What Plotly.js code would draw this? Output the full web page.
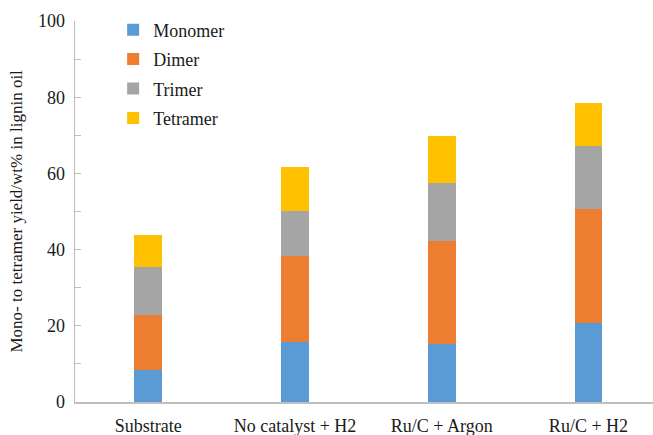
<!DOCTYPE html>
<html>
<head>
<meta charset="utf-8">
<script src="https://cdn.plot.ly/plotly-3.0.1.min.js"></script>
<style>html,body{margin:0;padding:0;background:#fff;}#chart{width:653px;height:435px;}</style>
</head>
<body>
<div id="chart"></div>
<script>
const categories = ["Substrate", "No catalyst + H2", "Ru/C + Argon", "Ru/C + H2"];
const monomer  = [8.3, 15.7, 15.3, 20.8];
const dimer    = [14.6, 22.5, 27.0, 29.9];
const trimer   = [12.5, 12.0, 15.2, 16.6];
const tetramer = [8.5, 11.6, 12.4, 11.1];
const seriesNames = ["Monomer", "Dimer", "Trimer", "Tetramer"];
const yTickVals = [0, 20, 40, 60, 80, 100];
const yTitle = "Mono- to tetramer yield/wt% in lignin oil";

const colors = ["#5B9BD5", "#ED7D31", "#A5A5A5", "#FFC000"];
const seriesData = [monomer, dimer, trimer, tetramer];
const FONT = "Liberation Serif, Tinos, Times New Roman, DejaVu Serif, serif";
const TXT = "#1a1a1a";

const traces = seriesData.map((vals, i) => ({
  type: "bar",
  name: seriesNames[i],
  x: categories,
  y: vals,
  width: 0.19,
  marker: {color: colors[i], line: {width: 0}},
  legendgroup: "g" + i,
  hoverinfo: "skip"
}));

const allTicks = [0,10,20,30,40,50,60,70,80,90,100];

const layout = {
  width: 653, height: 435,
  barmode: "stack",
  paper_bgcolor: "#fff", plot_bgcolor: "#fff",
  margin: {l: 75, r: 0, t: 21, b: 32.5},
  font: {family: FONT, size: 18, color: TXT},
  showlegend: true,
  legend: {
    x: 0.066, y: 1.025, xanchor: "left", yanchor: "top",
    traceorder: "grouped", tracegroupgap: 3,
    font: {family: FONT, size: 18, color: TXT},
    bgcolor: "rgba(0,0,0,0)"
  },
  xaxis: {
    type: "category",
    range: [-0.5, 3.44],
    showline: true, linecolor: "#BFBFBF", linewidth: 1.5,
    ticks: "", showgrid: false, zeroline: false,
    ticklabelstandoff: 7,
    tickfont: {family: FONT, size: 18, color: TXT},
    fixedrange: true
  },
  yaxis: {
    range: [0, 100],
    tickvals: allTicks,
    ticktext: allTicks.map(v => yTickVals.includes(v) ? String(v) : ""),
    ticks: "inside", ticklen: 6, tickcolor: "#BFBFBF", tickwidth: 1,
    showline: true, linecolor: "#BFBFBF", linewidth: 1.5,
    showgrid: false, zeroline: false,
    ticklabelstandoff: 5,
    tickfont: {family: FONT, size: 18, color: TXT},
    fixedrange: true
  },
  annotations: [{
    text: yTitle, textangle: -90,
    xref: "paper", yref: "paper", x: 0, y: 0.5,
    xanchor: "center", yanchor: "middle", xshift: -59,
    showarrow: false,
    font: {family: FONT, size: 17, color: TXT}
  }]
};

Plotly.newPlot("chart", traces, layout, {displayModeBar: false, staticPlot: true});
</script>
</body>
</html>
